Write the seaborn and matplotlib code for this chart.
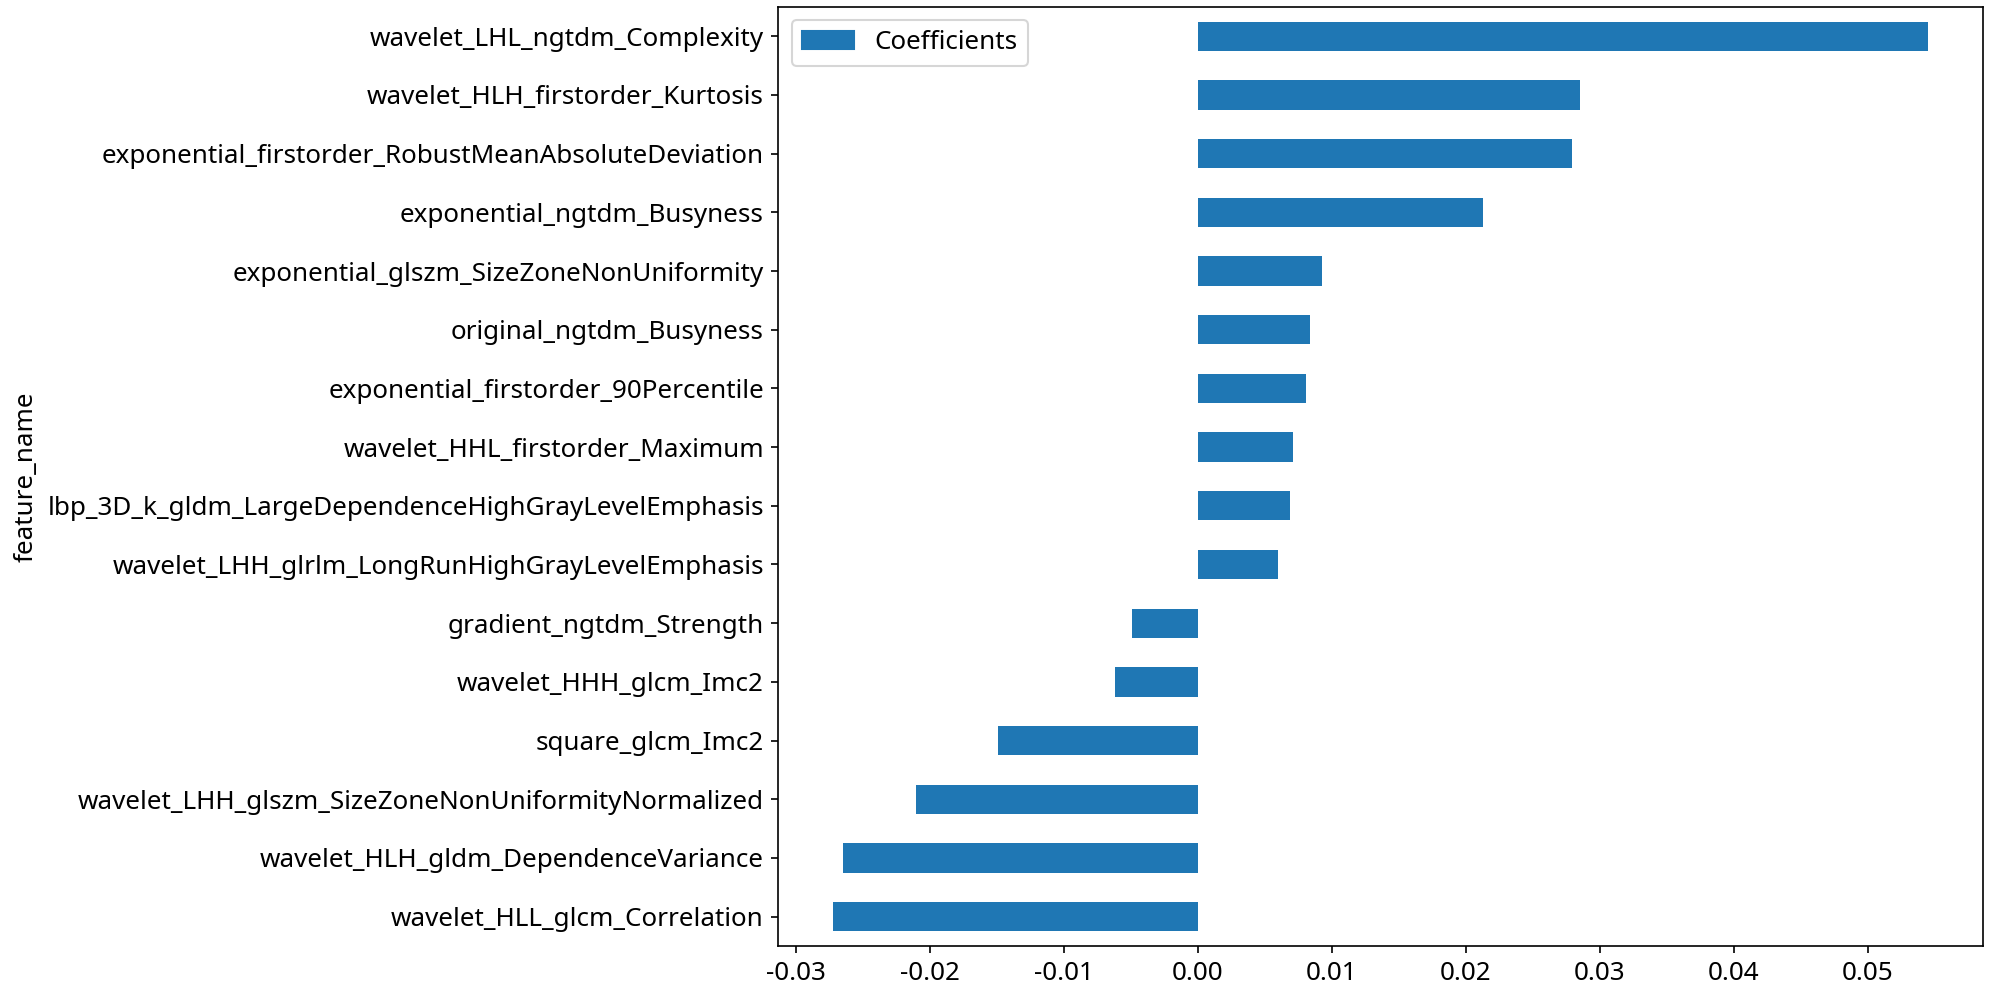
import matplotlib
matplotlib.use("Agg")
import matplotlib.pyplot as plt
from matplotlib.patches import Patch
import pandas as pd
import seaborn as sns

# features, top to bottom as drawn
features = [
    "wavelet_LHL_ngtdm_Complexity",
    "wavelet_HLH_firstorder_Kurtosis",
    "exponential_firstorder_RobustMeanAbsoluteDeviation",
    "exponential_ngtdm_Busyness",
    "exponential_glszm_SizeZoneNonUniformity",
    "original_ngtdm_Busyness",
    "exponential_firstorder_90Percentile",
    "wavelet_HHL_firstorder_Maximum",
    "lbp_3D_k_gldm_LargeDependenceHighGrayLevelEmphasis",
    "wavelet_LHH_glrlm_LongRunHighGrayLevelEmphasis",
    "gradient_ngtdm_Strength",
    "wavelet_HHH_glcm_Imc2",
    "square_glcm_Imc2",
    "wavelet_LHH_glszm_SizeZoneNonUniformityNormalized",
    "wavelet_HLH_gldm_DependenceVariance",
    "wavelet_HLL_glcm_Correlation",
]
coefs = [0.0545, 0.0285, 0.0279, 0.0213, 0.0093, 0.0084, 0.0081, 0.0071,
         0.0069, 0.0060, -0.0049, -0.0062, -0.0149, -0.0210, -0.0265, -0.0272]

df = pd.DataFrame({"feature_name": features, "Coefficients": coefs})

plt.rcParams["font.family"] = ["Noto Sans", "DejaVu Sans"]
plt.rcParams["font.size"] = 12.5
plt.rcParams["axes.unicode_minus"] = False

fig, ax = plt.subplots(figsize=(1991 / 150, 989 / 150), dpi=150)
sns.barplot(data=df, x="Coefficients", y="feature_name", orient="h",
            color="#1f77b4", saturation=1, width=0.5, linewidth=0, ax=ax)
ax.set_xlabel("")
ax.set_ylabel("feature_name")
ax.margins(x=0.05)
ax.set_ylim(15.5, -0.5)
ax.legend(handles=[Patch(color="#1f77b4", label="Coefficients")], loc="upper left")
plt.subplots_adjust(left=0.391, right=0.996, top=0.993, bottom=0.0435)
plt.savefig("out.png", dpi=150)
